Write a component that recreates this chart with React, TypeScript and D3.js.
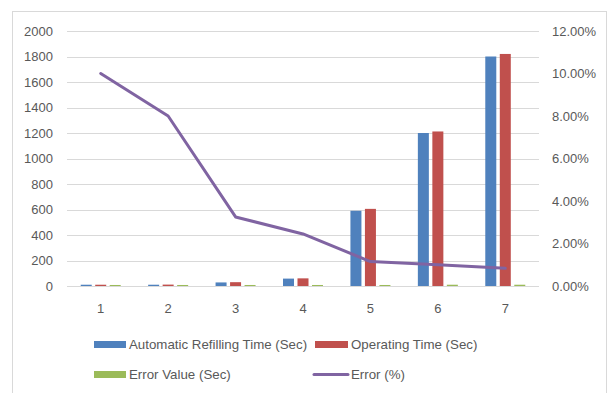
import React from "react";
import * as d3 from "d3";

const categories = ["1", "2", "3", "4", "5", "6", "7"];
const refillTime = [10, 10, 28, 58, 590, 1200, 1800];
const operatingTime = [10, 11, 30, 60, 605, 1212, 1820];
const errorValue = [8, 8, 8, 8, 8, 10, 10];
const errorPct = [10.0, 8.0, 3.25, 2.45, 1.15, 1.0, 0.83];
const leftTicks = [0, 200, 400, 600, 800, 1000, 1200, 1400, 1600, 1800, 2000];
const rightTicks = [0, 2, 4, 6, 8, 10, 12];

const seriesNames = ["Automatic Refilling Time (Sec)", "Operating Time (Sec)", "Error Value (Sec)"];
const colors = ["#4f81bd", "#c0504d", "#9bbb59"];
const lineColor = "#8064a2";
const textColor = "#595959";
const font = "'Liberation Sans', Arial, sans-serif";

export default function App() {
  const W = 608, H = 393;
  const left = 67, right = 539, top = 31, bottom = 286;
  const x = d3.scaleBand<string>().domain(categories).range([left, right]).padding(0);
  const yL = d3.scaleLinear().domain([0, 2000]).range([bottom, top]);
  const yR = d3.scaleLinear().domain([0, 12]).range([bottom, top]);
  const inner = d3.scaleBand<string>().domain(seriesNames).range([-20, 20]).paddingInner(0.241).paddingOuter(0);
  const data = [refillTime, operatingTime, errorValue];
  const cx = (c: string) => (x(c) as number) + x.bandwidth() / 2;
  const line = d3
    .line<number>()
    .x((_, i) => cx(categories[i]))
    .y((d) => yR(d));

  return (
    <svg width={W} height={H} style={{ position: "absolute", left: 0, top: 0, fontFamily: font }}>
      <rect x={0} y={0} width={W} height={H} fill="#fff" />
      <rect x={12.5} y={11.5} width={594} height={400} fill="#fff" stroke="#d9d9d9" strokeWidth={1} />
      {leftTicks.map((t) => (
        <line key={"g" + t} x1={left} x2={right} y1={Math.round(yL(t)) + 0.5} y2={Math.round(yL(t)) + 0.5} stroke="#d9d9d9" strokeWidth={1} />
      ))}
      {leftTicks.map((t) => (
        <text key={"l" + t} x={53} y={yL(t)} dy="0.35em" textAnchor="end" fontSize={13} fill={textColor}>
          {t}
        </text>
      ))}
      {rightTicks.map((t) => (
        <text key={"r" + t} x={552} y={yR(t)} dy="0.35em" textAnchor="start" fontSize={13} fill={textColor}>
          {t.toFixed(2) + "%"}
        </text>
      ))}
      {categories.map((c) => (
        <text key={"c" + c} x={cx(c)} y={313} textAnchor="middle" fontSize={13} fill={textColor}>
          {c}
        </text>
      ))}
      {data.map((series, si) =>
        series.map((v, i) => (
          <rect
            key={si + "-" + i}
            x={cx(categories[i]) + (inner(seriesNames[si]) as number)}
            y={yL(v)}
            width={inner.bandwidth()}
            height={bottom - yL(v)}
            fill={colors[si]}
          />
        ))
      )}
      <path d={line(errorPct) || ""} fill="none" stroke={lineColor} strokeWidth={3} strokeLinejoin="round" strokeLinecap="round" />
      <g fontSize={13.3} fill={textColor}>
        <rect x={94} y={341} width={32} height={7} fill={colors[0]} />
        <text x={129} y={344} dy="0.35em">{seriesNames[0]}</text>
        <rect x={315} y={341} width={33} height={7} fill={colors[1]} />
        <text x={351} y={344} dy="0.35em">{seriesNames[1]}</text>
        <rect x={94} y={371} width={32} height={7} fill={colors[2]} />
        <text x={129} y={374} dy="0.35em">{seriesNames[2]}</text>
        <line x1={314} x2={348} y1={374.5} y2={374.5} stroke={lineColor} strokeWidth={3} strokeLinecap="round" />
        <text x={351} y={374} dy="0.35em">Error (%)</text>
      </g>
    </svg>
  );
}
